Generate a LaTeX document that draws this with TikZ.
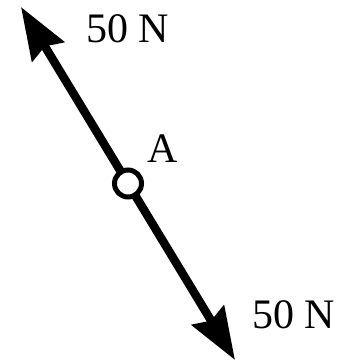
\documentclass[tikz,border=0pt]{standalone}
\usepackage{fontspec}
\setmainfont{Liberation Serif}
\usetikzlibrary{arrows.meta}
\begin{document}
\begin{tikzpicture}[x=1pt,y=-1pt,
  force/.style={line width=8.5pt,-{Stealth[length=52pt,width=37pt,inset=6pt]}},
  joint/.style={circle,draw,fill=white,line width=5pt,minimum size=27pt,inner sep=0pt},
  lbl/.style={font=\fontsize{42}{42}\selectfont,inner sep=0pt}]
\useasboundingbox (0,0) rectangle (345,361);
\coordinate (tipT) at (21,7);
\coordinate (tipB) at (235,360);
\coordinate (C) at (128,183.5);
\draw[force] (C) -- (tipT);
\draw[force] (C) -- (tipB);
\node[joint] (A) at (C) {};
\node[lbl,anchor=base west] (fT) at (86,42) {50 N};
\node[lbl,anchor=base west] (fB) at (252,328) {50 N};
\node[lbl,anchor=base] (lA) at (163,162) {A};
\end{tikzpicture}
\end{document}
